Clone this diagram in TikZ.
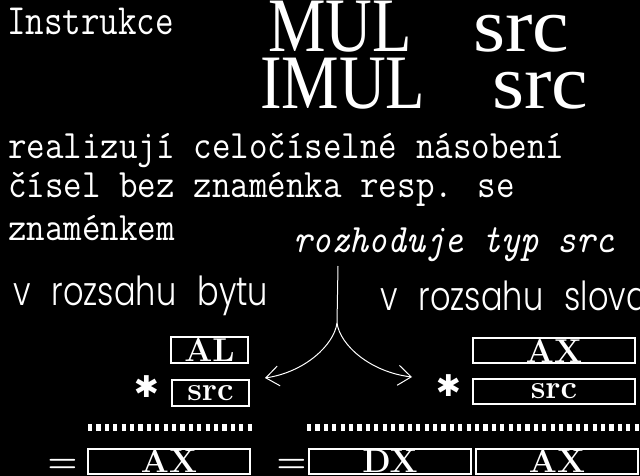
\documentclass[tikz,border=0pt]{standalone}
\usepackage{fontspec}
\usetikzlibrary{arrows.meta}
\newfontfamily\timesfont{Liberation Serif}
\newfontfamily\geofont{Poppins Light}[WordSpace=2.4]
\newfontfamily\starfont{DejaVu Sans}

\begin{document}
\begin{tikzpicture}[x=1pt,y=-1pt,
        txt/.style={anchor=base west,inner sep=0,text=white,text depth=0pt,font=\fontsize{36}{36}\ttfamily},
        big/.style={anchor=base west,inner sep=0,text=white,text height=51pt,text depth=0pt,font=\fontsize{77}{77}\timesfont},
        sizetxt/.style={anchor=base west,inner sep=0,text=white,text depth=0pt,font=\fontsize{40}{40}\geofont},
        reg/.style={draw=white,line width=2pt,inner sep=0,text=white,font=\fontsize{33}{33}\bfseries},
        narrow/.style={reg,minimum width=77pt,minimum height=26pt},
        wide/.style={reg,minimum width=162pt,minimum height=25pt},
        op/.style={anchor=base,inner sep=0,text=white,text depth=0pt,font=\fontsize{34}{34}\bfseries},
        star/.style={inner sep=0,text=white,font=\fontsize{30}{30}\starfont\bfseries},
        dots/.style={white,line width=7pt,dash pattern=on 4.2pt off 4.2pt},
        pick/.style={white,line width=1pt,-{Straight Barb[length=13pt,width=20pt]}}
      ]
      \fill[black] (0,0) rectangle (640,476);
      \useasboundingbox (0,0) rectangle (640,476);

      \node[txt] (title) at (7,35) {\scalebox{1}[1.2]{Instrukce}};
      \node[big] (mul) at (268,52) {\scalebox{0.84}[1]{MUL}};
      \node[big] (mulsrc) at (473,52) {\scalebox{1.07}[1]{src}};
      \node[big] (imul) at (260,109) {\scalebox{0.84}[1]{IMUL}};
      \node[big] (imulsrc) at (492,109) {\scalebox{1.07}[1]{src}};

      \node[txt] (desc1) at (8,158) {\scalebox{1}[1.12]{realizují celočíselné násobení}};
      \node[txt] (desc2) at (8,197) {\scalebox{1}[1.12]{čísel bez znaménka resp. se}};
      \node[txt] (desc3) at (8,240) {\scalebox{1}[1.12]{znaménkem}};
      \node[txt,font=\fontsize{36}{36}\ttfamily\itshape] (choice) at (293,252) {\scalebox{1}[1.12]{rozhoduje typ src}};

      \node[sizetxt] (bytes) at (13,305) {\scalebox{0.8}[1]{v rozsahu bytu}};
      \node[sizetxt] (words) at (380,310) {\scalebox{0.8}[1]{v rozsahu slova}};

      % byte version
      \node[narrow] (al) at (209.5,350) {AL};
      \node[narrow] (srcb) at (210.5,393) {src};
      \node[star] (timesb) at (146.5,387) {✱};
      \draw[dots] (88,427.5) -- (252,427.5);
      \node[op] (eqb) at (62.5,472.5) {=};
      \node[wide] (axb) at (169,461) {AX};

      % word version
      \node[wide] (axw) at (554,350.5) {AX};
      \node[wide] (srcw) at (554,391) {src};
      \node[star] (timesw) at (448.5,385.5) {✱};
      \draw[dots] (307,427.5) -- (640,427.5);
      \node[op] (eqw) at (291.5,472.5) {=};
      \node[wide] (dx) at (390,461) {DX};
      \node[wide] (axlow) at (557,461) {AX};

      \coordinate (top) at (338,266);
      \coordinate (fork) at (337,323);
      \coordinate (tobyte) at (265,378);
      \coordinate (toword) at (412,377);
      \draw[white,line width=1pt] (top) -- (fork);
      \draw[pick] (fork) .. controls (334,345) and (305,372) .. (tobyte);
      \draw[pick] (fork) .. controls (340,345) and (370,372) .. (toword);
    \end{tikzpicture}
\end{document}
